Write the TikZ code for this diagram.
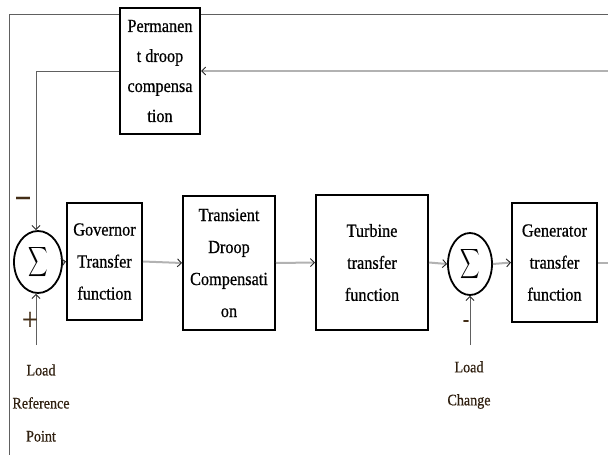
\documentclass[tikz,border=0pt]{standalone}
\usepackage{exscale}
\usepackage{fontspec}
\setmainfont{Liberation Serif}[FakeStretch=0.88, FakeBold=0.6]
\usetikzlibrary{shapes.geometric, arrows.meta}

\begin{document}
\begin{tikzpicture}[x=1pt, y=-1pt,
    block/.style={draw, line width=2pt, fill=white, align=center, inner sep=0pt,
        font=\fontsize{18.5}{32}\selectfont},
    sumnode/.style={draw, ellipse, line width=1.8pt, fill=white, inner sep=0pt,
        font=\fontsize{20}{20}\selectfont},
    sig/.style={draw=gray!60, line width=2pt, -{Straight Barb[length=4pt, width=8pt, line width=0.9pt, color=gray!30!black]}},
    fb/.style={draw=gray!75!black, line width=1pt},
    lbl/.style={align=center, inner sep=0pt, font=\fontsize{16}{33}\selectfont, text=black!75!brown},
    sgn/.style={inner sep=0pt, text=black!65!brown}]
    \useasboundingbox (0,0) rectangle (608,455);

    % outer feedback
    \coordinate (outin) at (608,14);
    \coordinate (outcorner) at (9,14);
    \coordinate (outend) at (9,455);
    \draw[fb] (outin) -- (outcorner) -- (outend);

    \node[block, minimum width=80, minimum height=126, font=\fontsize{18.5}{30}\selectfont] (perm) at (160,71)
        {Permanen\\t droop\\compensa\\tion};
    \node[sumnode, minimum width=48, minimum height=62] (sum1) at (38,262) {\scalebox{0.65}[1]{$\displaystyle\sum$}};
    \node[block, minimum width=75, minimum height=117] (gov) at (104.5,261.5) {Governor\\Transfer\\function};
    \node[block, minimum width=92, minimum height=134] (trans) at (229,263) {Transient\\Droop\\Compensati\\on};
    \node[block, minimum width=112, minimum height=135] (turb) at (372,262.5) {Turbine\\transfer\\function};
    \node[sumnode, minimum width=44, minimum height=62] (sum2) at (470,264) {\scalebox{0.65}[1]{$\displaystyle\sum$}};
    \node[block, minimum width=85, minimum height=119] (gen) at (554.5,262.5) {Generator\\transfer\\function};

    % inner feedback
    \coordinate (fbin) at (608,71);
    \coordinate (fbcorner) at (36,71);
    \draw[sig] (fbin) -- (perm.east);
    \draw[sig, draw=gray!75!black, line width=1pt] (perm.west) -- (fbcorner) -- (fbcorner |- sum1.north);

    % forward path
    \draw[sig] (sum1.east) -- (gov.west);
    \draw[sig] (gov.east) -- (trans.west);
    \draw[sig] (trans.east) -- (turb.west);
    \draw[sig] (turb.east) -- (sum2.west);
    \draw[sig] (sum2.east) -- (gen.west);
    \coordinate (out) at (608,262.5);
    \draw[draw=gray!60, line width=2pt] (gen.east) -- (out);

    % inputs
    \coordinate (ref) at (36,345);
    \coordinate (load) at (470,345);
    \draw[sig, draw=gray!75!black, line width=1pt] (ref) -- (ref |- sum1.south);
    \draw[sig, draw=gray!75!black, line width=1pt] (load) -- (sum2.south);
    \node[lbl] (reflbl) at (41,403) {Load\\Reference\\Point};
    \node[lbl] (loadlbl) at (469,385) {Load\\Change};

    \node[sgn, font=\fontsize{30}{30}\selectfont\bfseries] (minus1) at (23,201) {\textendash};
    \node[sgn, font=\fontsize{32}{32}\selectfont] (plus1) at (30,321) {+};
    \node[sgn, font=\fontsize{20}{20}\selectfont\bfseries] (minus2) at (466,323) {-};
\end{tikzpicture}
\end{document}
